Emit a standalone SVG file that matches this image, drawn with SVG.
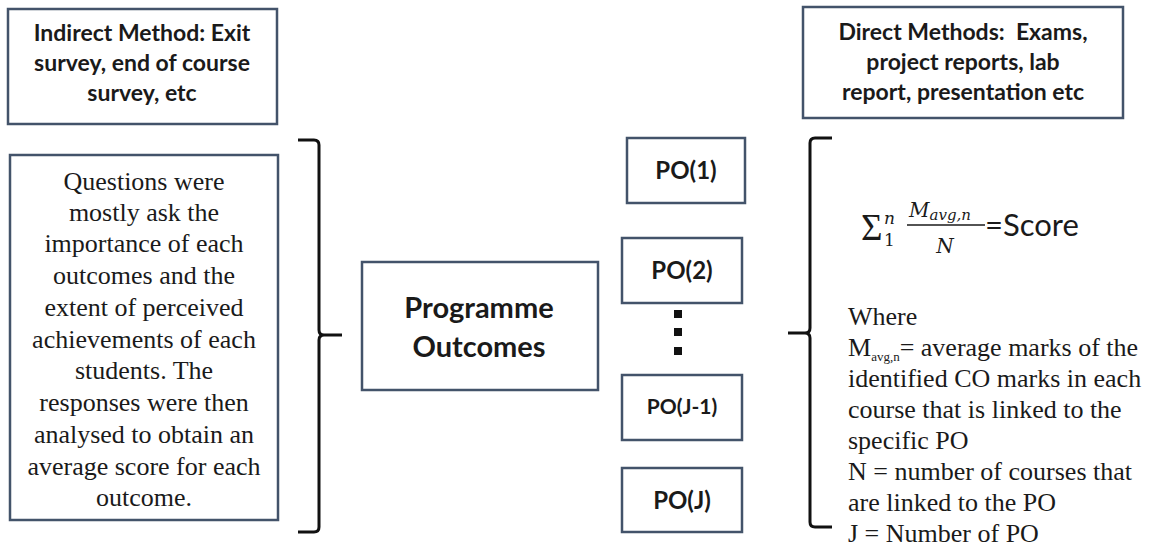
<svg xmlns="http://www.w3.org/2000/svg" width="1157" height="550" viewBox="0 0 1157 550">
<style>
.box{fill:#ffffff;stroke:#43536a;stroke-width:2.5}
.sb{font-family:Lato,"Liberation Sans",sans-serif;font-weight:bold;fill:#1a1a1a;text-anchor:middle}
.ser{font-family:"Liberation Serif",serif;font-size:26px;fill:#1a1a1a}
.brace{fill:none;stroke:#111;stroke-width:3;stroke-linecap:butt}
.math{font-family:"DejaVu Serif","Liberation Serif",serif;font-style:italic;fill:#1a1a1a}
</style>
<rect width="1157" height="550" fill="#ffffff"/>
<g id="indirect">
<rect class="box" x="8" y="9" width="269" height="115"/>
<text class="sb" font-size="23" x="142" y="41">Indirect Method: Exit</text>
<text class="sb" font-size="23" x="142" y="71">survey, end of course</text>
<text class="sb" font-size="23" x="142" y="101">survey, etc</text>
</g>
<g id="direct">
<rect class="box" x="803" y="7" width="320" height="111"/>
<text class="sb" font-size="23" x="963" y="40">Direct Methods:&#160; Exams,</text>
<text class="sb" font-size="23" x="963" y="70">project reports, lab</text>
<text class="sb" font-size="23" x="963" y="100">report, presentation etc</text>
</g>
<g id="questions">
<rect class="box" x="10" y="155" width="268" height="365"/>
<g class="ser" text-anchor="middle">
<text x="144" y="190">Questions were</text>
<text x="144" y="221">mostly ask the</text>
<text x="144" y="252">importance of each</text>
<text x="144" y="284">outcomes and the</text>
<text x="144" y="316">extent  of perceived</text>
<text x="144" y="348">achievements of each</text>
<text x="144" y="379">students. The</text>
<text x="144" y="411">responses were then</text>
<text x="144" y="443">analysed to obtain an</text>
<text x="144" y="475">average  score for each</text>
<text x="144" y="506">outcome.</text>
</g>
</g>
<g id="programme">
<rect class="box" x="362" y="262" width="236" height="128"/>
<text class="sb" font-size="29" x="479" y="318">Programme</text>
<text class="sb" font-size="29" x="479" y="357">Outcomes</text>
</g>
<g id="po1">
<rect class="box" x="627" y="138" width="118" height="65"/>
<text class="sb" font-size="24" x="686" y="179">PO(1)</text>
</g>
<g id="po2">
<rect class="box" x="622" y="238" width="120" height="65"/>
<text class="sb" font-size="24" x="682" y="279">PO(2)</text>
</g>
<g id="dots" fill="#111">
<rect x="674" y="310" width="8" height="8"/>
<rect x="674" y="328" width="8" height="8"/>
<rect x="674" y="347" width="8" height="8"/>
</g>
<g id="poj1">
<rect class="box" x="622" y="375" width="120" height="65"/>
<text class="sb" font-size="21" x="682" y="414">PO(J-1)</text>
</g>
<g id="poj">
<rect class="box" x="622" y="468" width="120" height="64"/>
<text class="sb" font-size="24" x="682" y="509">PO(J)</text>
</g>
<g id="connectors">
<path class="brace" d="M298,140 H314 Q319,140 319,145 V330 Q319,335 324,335 H342 M324,335 Q319,335 319,340 V527 Q319,532 314,532 H298"/>
<path class="brace" d="M832,138 H815 Q810,138 810,143 V328 Q810,333 805,333 H788 M805,333 Q810,333 810,338 V522 Q810,527 815,527 H832"/>
</g>
<g id="formula">
<text x="861" y="240" font-family="'Liberation Serif',serif" font-size="37" fill="#1a1a1a">Σ</text>
<text class="math" x="884" y="224" font-size="17">n</text>
<text x="884" y="246" font-family="'DejaVu Serif',serif" font-size="17" fill="#1a1a1a">1</text>
<text class="math" x="909" y="217" font-size="20">M<tspan font-size="15" dy="3">avg,n</tspan></text>
<line x1="907" y1="225" x2="985" y2="225" stroke="#1a1a1a" stroke-width="1.5"/>
<text class="math" x="945" y="253" font-size="20" text-anchor="middle">N</text>
<text x="985" y="236" font-family="Lato,'Liberation Sans',sans-serif" font-size="31" fill="#1a1a1a">=Score</text>
</g>
<g id="where" class="ser">
<text x="848" y="325">Where</text>
<text x="848" y="356">M<tspan font-size="13" dy="5">avg,n</tspan><tspan dy="-5">=  average marks of the</tspan></text>
<text x="848" y="387">identified CO marks in each</text>
<text x="848" y="418">course that is linked to the</text>
<text x="848" y="449">specific PO</text>
<text x="848" y="480">N = number of courses that</text>
<text x="848" y="511">are linked to the PO</text>
<text x="848" y="542">J = Number of PO</text>
</g>
</svg>
